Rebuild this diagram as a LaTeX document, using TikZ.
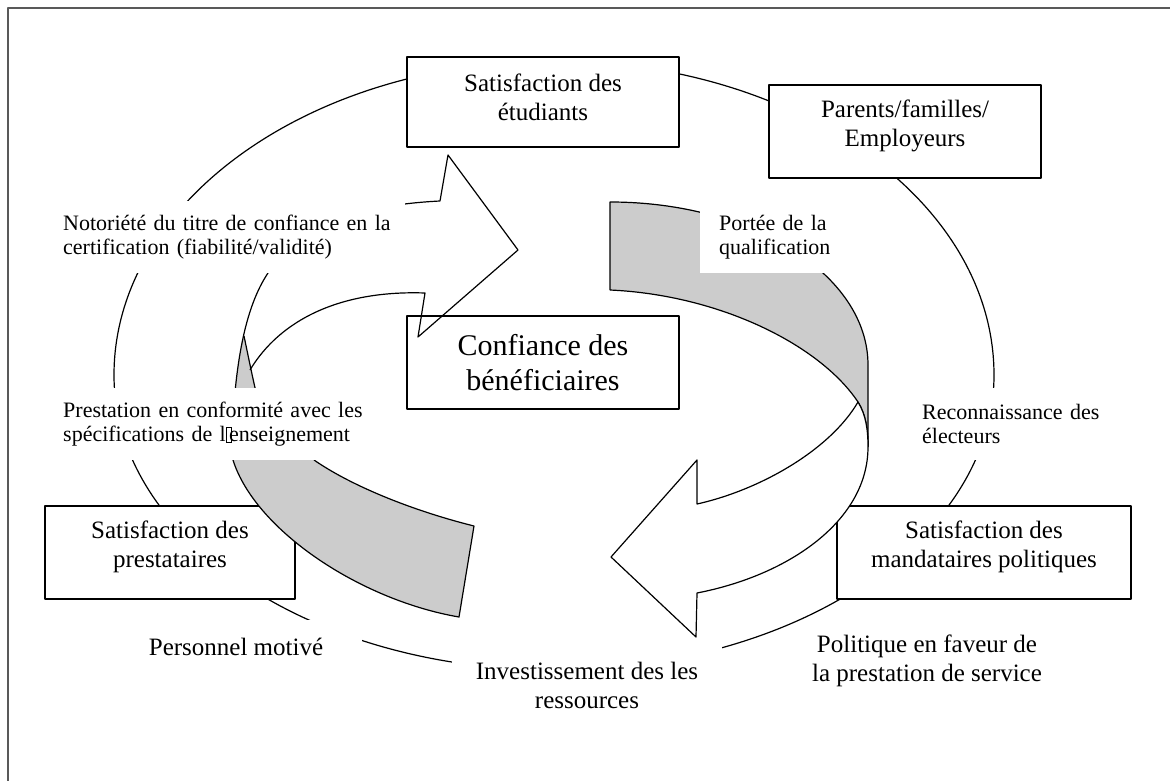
\documentclass[tikz,border=0pt]{standalone}
\usepackage{fontspec}
\setmainfont{Liberation Serif}
\definecolor{ribbongray}{RGB}{204,204,204}
% The missing character as it is printed
\newcommand\boxglyph{\kern0.5pt\raisebox{0pt}{\fboxsep=0pt\fboxrule=0.7pt\fbox{\rule{0pt}{14pt}\kern4.5pt}}\kern-3pt}
\tikzset{
  ring/.style={line width=1.2pt},
  box/.style={draw, fill=white, line width=1.2pt, inner sep=0pt},
  boxtext/.style={align=center, font=\fontsize{25}{29}\selectfont},
  lbl/.style={fill=white, inner ysep=0pt, minimum height=72pt, align=left, anchor=north west, font=\fontsize{22}{24}\selectfont},
  bigtext/.style={fill=white, align=center, font=\fontsize{25}{29}\selectfont},
}
\begin{document}
\begin{tikzpicture}[x=1pt,y=-1pt,line join=round]
  % Fix the size of the page
  \useasboundingbox (0,0) rectangle (1170,781);

  % Draw the frame
  \draw[black!65,line width=1.6pt] (8,781) -- (8,8) -- (1170,8);

  % Draw the cycle round the boxes
  \draw[ring] (114,375) .. controls (114,201.6) and (311,61) .. (554,61)
    .. controls (797,61) and (994,201.6) .. (994,375)
    .. controls (994,537.9) and (797,670) .. (554,670)
    .. controls (311,670) and (114,537.9) .. (114,375);

  % The boxes
  \node[box,minimum width=272pt,minimum height=90pt] (etud) at (543,102) {};
  \node[boxtext] (etudtxt) at ([yshift=5pt]etud.center) {Satisfaction des\\étudiants};
  \node[box,minimum width=272pt,minimum height=93pt] (parents) at (905,131.5) {};
  \node[boxtext] (parentstxt) at ([yshift=6pt]parents.center) {Parents/familles/\\Employeurs};
  \node[box,minimum width=272pt,minimum height=93pt] (conf) at (543,362.5) {};
  \node[boxtext,font=\fontsize{30}{35}\selectfont] (conftxt) at (conf.center) {Confiance des\\bénéficiaires};
  \node[box,minimum width=250pt,minimum height=93pt] (prest) at (170,552.5) {};
  \node[boxtext] (presttxt) at ([yshift=6pt]prest.center) {Satisfaction des\\prestataires};
  \node[box,minimum width=294pt,minimum height=93pt] (mand) at (984,552.5) {};
  \node[boxtext] (mandtxt) at ([yshift=6pt]mand.center) {Satisfaction des\\mandataires politiques};

  % Left ribbon: grey back
  \fill[ribbongray] (233,450) -- (233,460) .. controls (255,530) and (360,600) .. (459,617)
    -- (474,526) .. controls (410,510) and (350,485) .. (314,460) -- (312,450) -- cycle;
  \draw[ring] (233,460) .. controls (255,530) and (360,600) .. (459,617)
    -- (474,526) .. controls (410,510) and (350,485) .. (314,460);
  \fill[ribbongray] (235,392) .. controls (237,370) and (240,350) .. (244,336)
    .. controls (248,355) and (252,375) .. (256,392) -- cycle;
  \draw[ring] (244,336) .. controls (248,355) and (252,375) .. (256,392);

  % Left ribbon: white arrow
  \draw[ring] (235,392) .. controls (240,340) and (250,300) .. (268,273)
    .. controls (300,225) and (360,205) .. (440,201) -- (448,155) -- (518,250)
    -- (418,337) -- (425,293) .. controls (340,290) and (280,320) .. (250,370);

  % Right ribbon: grey back
  \fill[ribbongray] (610,202) .. controls (752.5,202) and (868,275) .. (868,365) -- (868,447)
    .. controls (868,430) and (866,415) .. (858,402)
    .. controls (820,345) and (720,295) .. (610,290) -- cycle;
  \draw[ring] (610,290) -- (610,202) .. controls (752.5,202) and (868,275) .. (868,365) -- (868,447);
  \draw[ring] (610,290) .. controls (720,295) and (820,345) .. (858,402)
    .. controls (866,415) and (868,430) .. (868,447);

  % Right ribbon: white arrow
  \filldraw[ring,fill=white] (868,447) .. controls (868,520) and (790,575) .. (697,593)
    -- (696,637) -- (611,557) -- (697,460) -- (697,504)
    .. controls (760,490) and (830,450) .. (858,402)
    .. controls (866,415) and (868,430) .. (868,447) -- cycle;

  % Labels on the cycle
  \node[lbl,text width=342pt,inner xsep=0pt] (noto) at (63,201) {Notoriété du titre de confiance en la\\certification (fiabilité/validité)};
  \node[lbl,text width=337pt,inner xsep=0pt] (presta) at (63,388) {Prestation en conformité avec les\\spécifications de l\boxglyph enseignement};
  \node[lbl,text width=125pt,inner xsep=19pt] (portee) at (700,201) {Portée de la\\qualification};
  \node[lbl,text width=185pt,inner xsep=10pt] (recon) at (912,388) {Reconnaissance des\\électeurs};
  \node[bigtext,minimum width=252pt,minimum height=54pt] (perso) at (236,647) {Personnel motivé};
  \node[bigtext,minimum width=270pt,minimum height=80pt] (invest) at (587,685) {Investissement des les\\ressources};
  \node[bigtext] (poli) at (927,661) {Politique en faveur de\\la prestation de service};
\end{tikzpicture}
\end{document}
